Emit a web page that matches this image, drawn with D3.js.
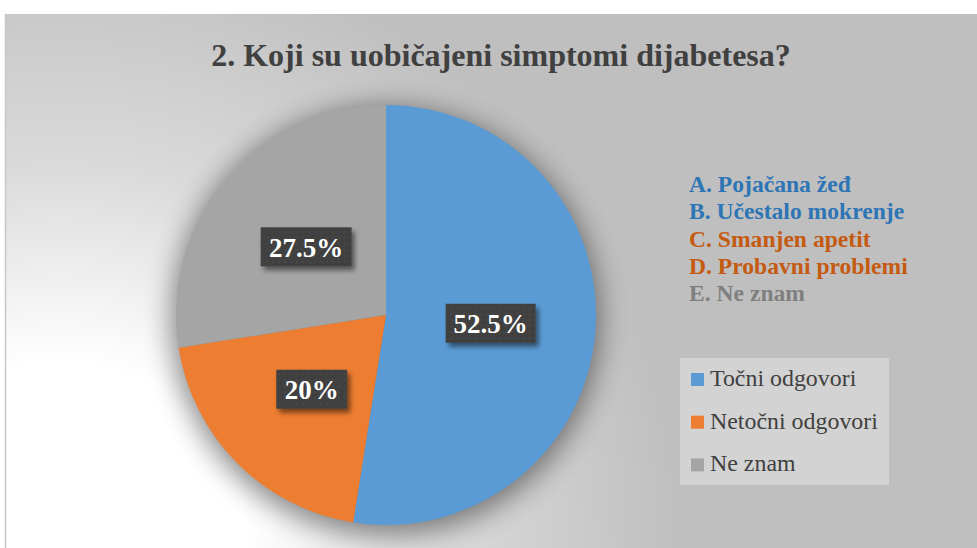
<!DOCTYPE html>
<html><head><meta charset="utf-8">
<script src="https://cdn.jsdelivr.net/npm/d3@7/dist/d3.min.js"></script>
</head><body style="margin:0;padding:0">
<svg id="c" width="977" height="548" style="display:block"></svg>
<script>
const title = "2. Koji su uobičajeni simptomi dijabetesa?";
const categories = ["Točni odgovori", "Netočni odgovori", "Ne znam"];
const values = [52.5, 20, 27.5];
const valueLabels = ["52.5%", "20%", "27.5%"];
const colors = ["#5b9bd5", "#ed7d31", "#a5a5a5"];
const answerOptions = ["A. Pojačana žeđ", "B. Učestalo mokrenje", "C. Smanjen apetit", "D. Probavni problemi", "E. Ne znam"];
const answerGroup = [0, 0, 1, 1, 2];
const answerColors = ["#2e75b6", "#c55a11", "#7f7f7f"];

const FONT = '"Liberation Serif", "Times New Roman", Tinos, "Nimbus Roman", FreeSerif, Times, serif';
const W = 977, H = 548;
const svg = d3.select("#c");
const defs = svg.append("defs");

const rg = defs.append("radialGradient").attr("id", "bg")
  .attr("gradientUnits", "userSpaceOnUse")
  .attr("cx", 60).attr("cy", 548).attr("r", 620);
rg.append("stop").attr("offset", "0").attr("stop-color", "#ffffff");
rg.append("stop").attr("offset", "0.3").attr("stop-color", "#ffffff");
rg.append("stop").attr("offset", "0.62").attr("stop-color", "#dadada");
rg.append("stop").attr("offset", "1").attr("stop-color", "#bfbfbf");

const shadow = defs.append("filter").attr("id", "pieShadow")
  .attr("x", "-30%").attr("y", "-30%").attr("width", "160%").attr("height", "160%");
shadow.append("feGaussianBlur").attr("stdDeviation", 14);

const boxShadow = defs.append("filter").attr("id", "boxShadow")
  .attr("x", "-20%").attr("y", "-30%").attr("width", "150%").attr("height", "170%");
boxShadow.append("feGaussianBlur").attr("in", "SourceAlpha").attr("stdDeviation", 2.5).attr("result", "b");
boxShadow.append("feOffset").attr("in", "b").attr("dx", 3).attr("dy", 4).attr("result", "o");
boxShadow.append("feComponentTransfer").attr("in", "o").attr("result", "o2")
  .append("feFuncA").attr("type", "linear").attr("slope", 0.5);
const bm = boxShadow.append("feMerge");
bm.append("feMergeNode").attr("in", "o2");
bm.append("feMergeNode").attr("in", "SourceGraphic");

const pat = defs.append("pattern").attr("id", "dots").attr("patternUnits", "userSpaceOnUse")
  .attr("width", 6).attr("height", 6);
pat.append("rect").attr("width", 6).attr("height", 6).attr("fill", "#404040");
pat.append("circle").attr("cx", 3).attr("cy", 3).attr("r", 1.1).attr("fill", "#4a4a4a");

svg.append("rect").attr("x", 5).attr("y", 14).attr("width", W - 5).attr("height", H - 14).attr("fill", "url(#bg)");
svg.append("line").attr("x1", 5.5).attr("x2", 5.5).attr("y1", 14).attr("y2", H).attr("stroke", "#c8c8c8").attr("stroke-width", 1.5);

svg.append("text").attr("x", 501).attr("y", 66).attr("text-anchor", "middle")
  .attr("font-family", FONT).attr("font-weight", "bold").attr("font-size", 32)
  .attr("fill", "#404040").text(title);

const cx = 386, cy = 315, R = 210;
const g = svg.append("g").attr("transform", `translate(${cx},${cy})`);
g.append("circle").attr("cx", 0).attr("cy", 6).attr("r", R + 4).attr("fill", "#000").attr("opacity", 0.45)
  .attr("filter", "url(#pieShadow)");
const pie = d3.pie().sort(null).value(d => d)(values);
const arc = d3.arc().innerRadius(0).outerRadius(R);
g.selectAll("path.s").data(pie).join("path").attr("class", "s")
  .attr("d", arc).attr("fill", (d, i) => colors[i]);

const boxW = [90, 71, 91];
pie.forEach((d, i) => {
  const [x, y] = arc.centroid(d);
  const lg = g.append("g").attr("transform", `translate(${x},${y})`);
  const bw = boxW[i], bh = 39;
  lg.append("rect").attr("x", -bw / 2).attr("y", -bh / 2).attr("width", bw).attr("height", bh)
    .attr("fill", "url(#dots)").attr("filter", "url(#boxShadow)");
  lg.append("text").attr("text-anchor", "middle").attr("y", 10)
    .attr("font-family", FONT).attr("font-weight", "bold").attr("font-size", 27)
    .attr("fill", "#fff").text(valueLabels[i]);
});

const ag = svg.append("g");
answerOptions.forEach((s, i) => {
  ag.append("text").attr("x", 689).attr("y", 192 + i * 27.3)
    .attr("font-family", FONT).attr("font-weight", "bold").attr("font-size", 23.6)
    .attr("fill", answerColors[answerGroup[i]]).text(s);
});

const leg = svg.append("g");
leg.append("rect").attr("x", 680).attr("y", 358).attr("width", 209).attr("height", 127).attr("fill", "#d3d3d3");
categories.forEach((c, i) => {
  const y = 380 + i * 42.7;
  leg.append("rect").attr("x", 691).attr("y", y - 7).attr("width", 13).attr("height", 13).attr("fill", colors[i]);
  leg.append("text").attr("x", 710).attr("y", y + 6)
    .attr("font-family", FONT).attr("font-size", 23.9)
    .attr("fill", "#404040").text(c);
});
</script>
</body></html>
